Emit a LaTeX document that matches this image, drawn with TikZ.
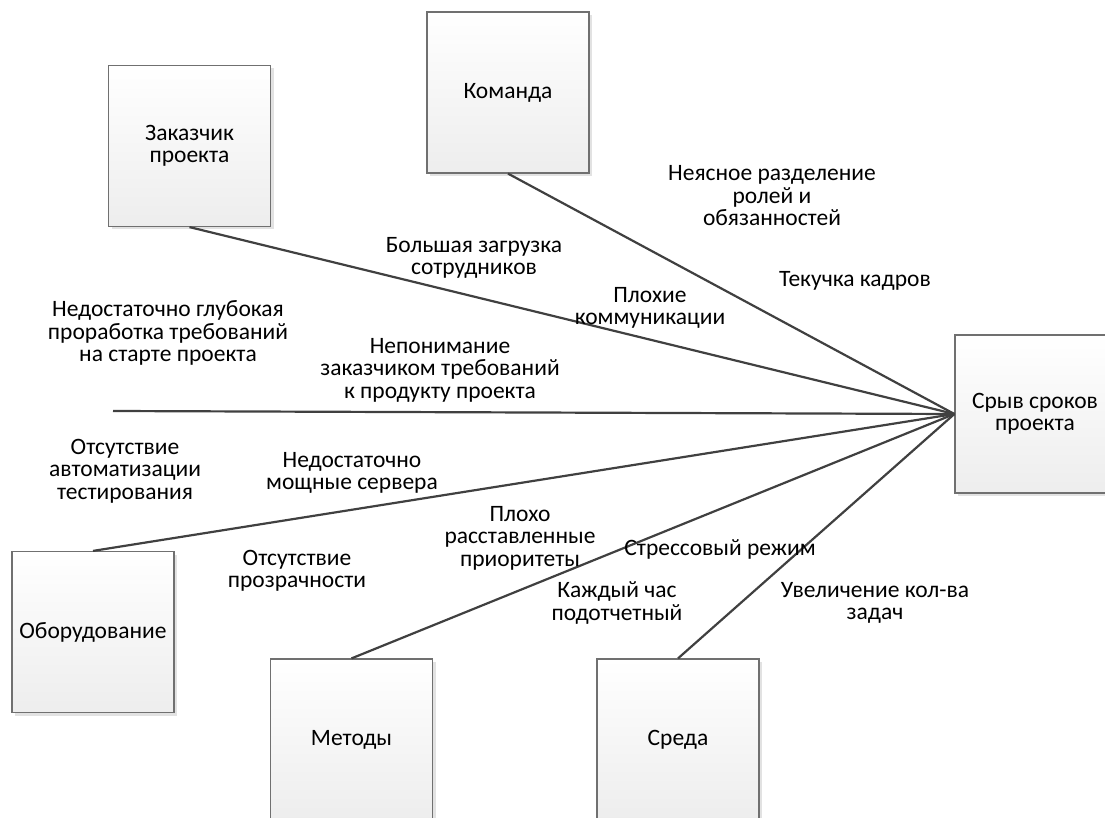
\documentclass[tikz,border=0pt]{standalone}
\usepackage{fontspec}
\setmainfont{Carlito}
\usetikzlibrary{shadows}
\definecolor{boxline}{HTML}{707070}
\definecolor{conn}{HTML}{404040}
\definecolor{shad}{HTML}{E2E2E2}
\begin{document}
\begin{tikzpicture}[x=1pt,y=-1pt,
  every node/.style={font=\fontsize{23.5}{22.5}\selectfont},
  box/.style={draw=boxline, line width=1.2pt, top color=white, bottom color=black!7,
    minimum width=162pt, minimum height=161pt, align=center, inner sep=2pt,
    drop shadow={shadow xshift=3pt, shadow yshift=-3pt, fill=shad, opacity=1}},
  conline/.style={draw=conn, line width=2.2pt},
  lbl/.style={align=center, inner sep=0pt}]
\useasboundingbox (0,0) rectangle (1105,818);
\clip (0,0) rectangle (1105,818);
% boxes
\node[box] (zak) at (189.5,146) {Заказчик\\проекта};
\node[box] (kom) at (508,92.5) {Команда};
\node[box] (obo) at (93,632) {Оборудование};
\node[box] (met) at (351.5,739.5) {Методы};
\node[box] (sre) at (678,739.5) {Среда};
\node[box, minimum height=158pt, minimum width=160pt] (srv) at (1035,414) {Срыв сроков\\проекта};
\coordinate (tail) at (113,411);
% connectors
\draw[conline] (zak.south) -- (srv.west);
\draw[conline] (kom.south) -- (srv.west);
\draw[conline] (tail) -- (srv.west);
\draw[conline] (obo.north) -- (srv.west);
\draw[conline] (met.north) -- (srv.west);
\draw[conline] (sre.north) -- (srv.west);
% labels
\node[lbl] (l1) at (772,196) {Неясное разделение\\ролей и\\обязанностей};
\node[lbl] (l2) at (855,281) {Текучка кадров};
\node[lbl] (l3) at (474,258) {Большая загрузка\\сотрудников};
\node[lbl] (l4) at (650,308) {Плохие\\коммуникации};
\node[lbl] (l5) at (168,333) {Недостаточно глубокая\\проработка требований\\на старте проекта};
\node[lbl] (l6) at (440,370) {Непонимание\\заказчиком требований\\к продукту проекта};
\node[lbl] (l7) at (125,471) {Отсутствие\\автоматизации\\тестирования};
\node[lbl] (l8) at (352,473) {Недостаточно\\мощные сервера};
\node[lbl] (l9) at (520,538) {Плохо\\расставленные\\приоритеты};
\node[lbl] (l10) at (720,549) {Стрессовый режим};
\node[lbl] (l11) at (297,571) {Отсутствие\\прозрачности};
\node[lbl] (l12) at (617,603) {Каждый час\\подотчетный};
\node[lbl] (l13) at (875,603) {Увеличение кол-ва\\задач};
\end{tikzpicture}
\end{document}
